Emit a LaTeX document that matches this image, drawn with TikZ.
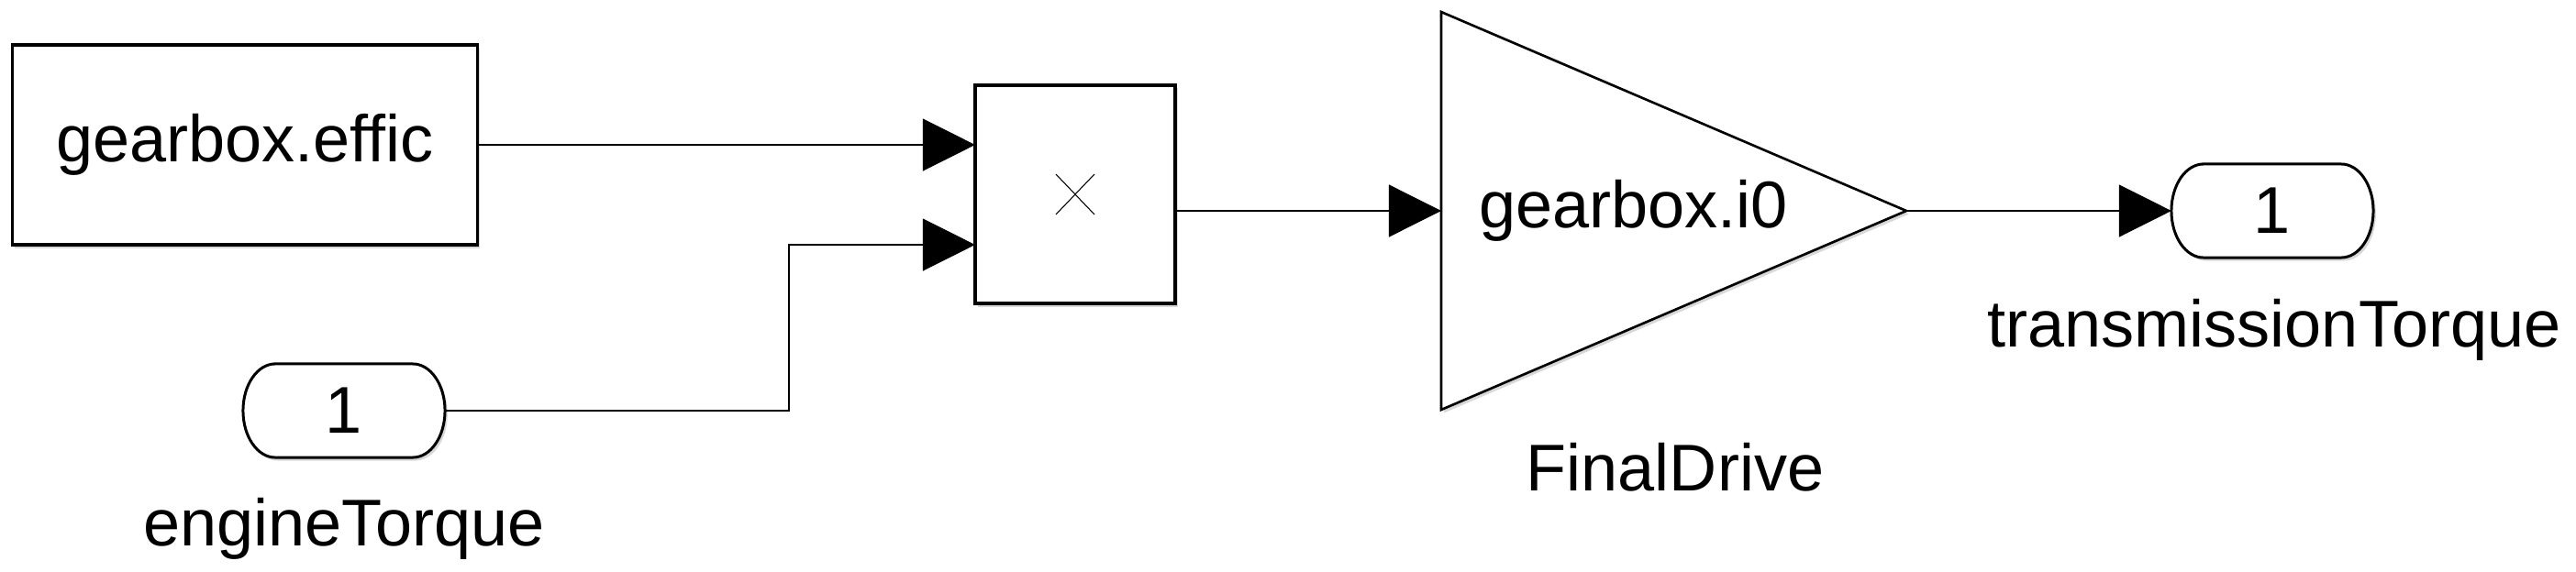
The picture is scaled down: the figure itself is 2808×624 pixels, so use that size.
\documentclass[tikz,border=0pt]{standalone}
\usepackage{fontspec}
\setmainfont{Liberation Sans}
\usetikzlibrary{arrows.meta,shadows,calc}
\newcommand{\portoutline}[1]{%
  \draw[portline] ([xshift=0.35cm]#1.north west) -- ([xshift=-0.35cm]#1.north east)
    arc[start angle=90,end angle=-90,x radius=0.35cm,y radius=0.51cm]
    -- ([xshift=0.35cm]#1.south west)
    arc[start angle=270,end angle=90,x radius=0.35cm,y radius=0.51cm] -- cycle;}
\begin{document}
\begin{tikzpicture}[x=0.01cm,y=-0.01cm,
  every node/.style={font=\fontsize{20.5}{24}\selectfont, inner sep=0pt, outer sep=0pt},
  myshadow/.style={drop shadow={shadow xshift=0.8pt, shadow yshift=-1pt, opacity=0.3}},
  blk/.style={draw, line width=1.05pt, fill=white, myshadow},
  tri/.style={draw, line width=0.75pt, fill=white, line join=miter, myshadow},
  portline/.style={draw, line width=0.85pt, fill=white, myshadow},
  port/.style={rectangle, minimum width=2.2cm, minimum height=1.02cm},
  wire/.style={line width=0.35pt, -{Triangle[length=0.57cm,width=0.57cm]}},
  thin/.style={line width=0.3pt}]
\useasboundingbox[fill=white] (0,0) rectangle (2808,624);

% constant block
\node[blk, minimum width=5.07cm, minimum height=2.18cm] (eff) at (267,158) {gearbox.effic};

% product block
\node[blk, minimum width=2.18cm, minimum height=2.38cm] (prod) at (1172,212) {};
\draw[thin] ($(prod.center)+(-21,-22)$) -- ($(prod.center)+(21,22)$);
\draw[thin] ($(prod.center)+(-21,22)$) -- ($(prod.center)+(21,-22)$);
\coordinate (pin1) at (prod.west |- eff.east);
\coordinate (pin2) at ($(prod.west)+(0,55)$);
\coordinate (pout) at ($(prod.east)+(0,18)$);

% gain block
\coordinate (gtop) at (1571,13);
\coordinate (gbot) at (1571,447);
\coordinate (gout) at (2078,230);
\coordinate (gin) at (1571,230);
\draw[tri] (gtop) -- (gout) -- (gbot) -- cycle;
\node[anchor=west] (gtxt) at (1612,230) {gearbox.i0};
\node[anchor=base] (glbl) at (1826,535) {FinalDrive};

% inport
\node[port] (inp) at (375,448) {};
\portoutline{inp}
\node (inptxt) at (inp.center) {1};
\node[anchor=base] (inplbl) at (375,595) {engineTorque};

% outport
\node[port] (outp) at (2477,230) {};
\portoutline{outp}
\node (outptxt) at (outp.center) {1};
\node[anchor=base] (outplbl) at (2479,378) {transmissionTorque};

% connectors
\coordinate (jn) at (860,267);
\draw[wire] (eff.east) -- (pin1);
\draw[wire] (inp.east) -| (jn) -- (pin2);
\draw[wire] (pout) -- (gin);
\draw[wire] (gout) -- (outp.west);
\end{tikzpicture}
\end{document}
